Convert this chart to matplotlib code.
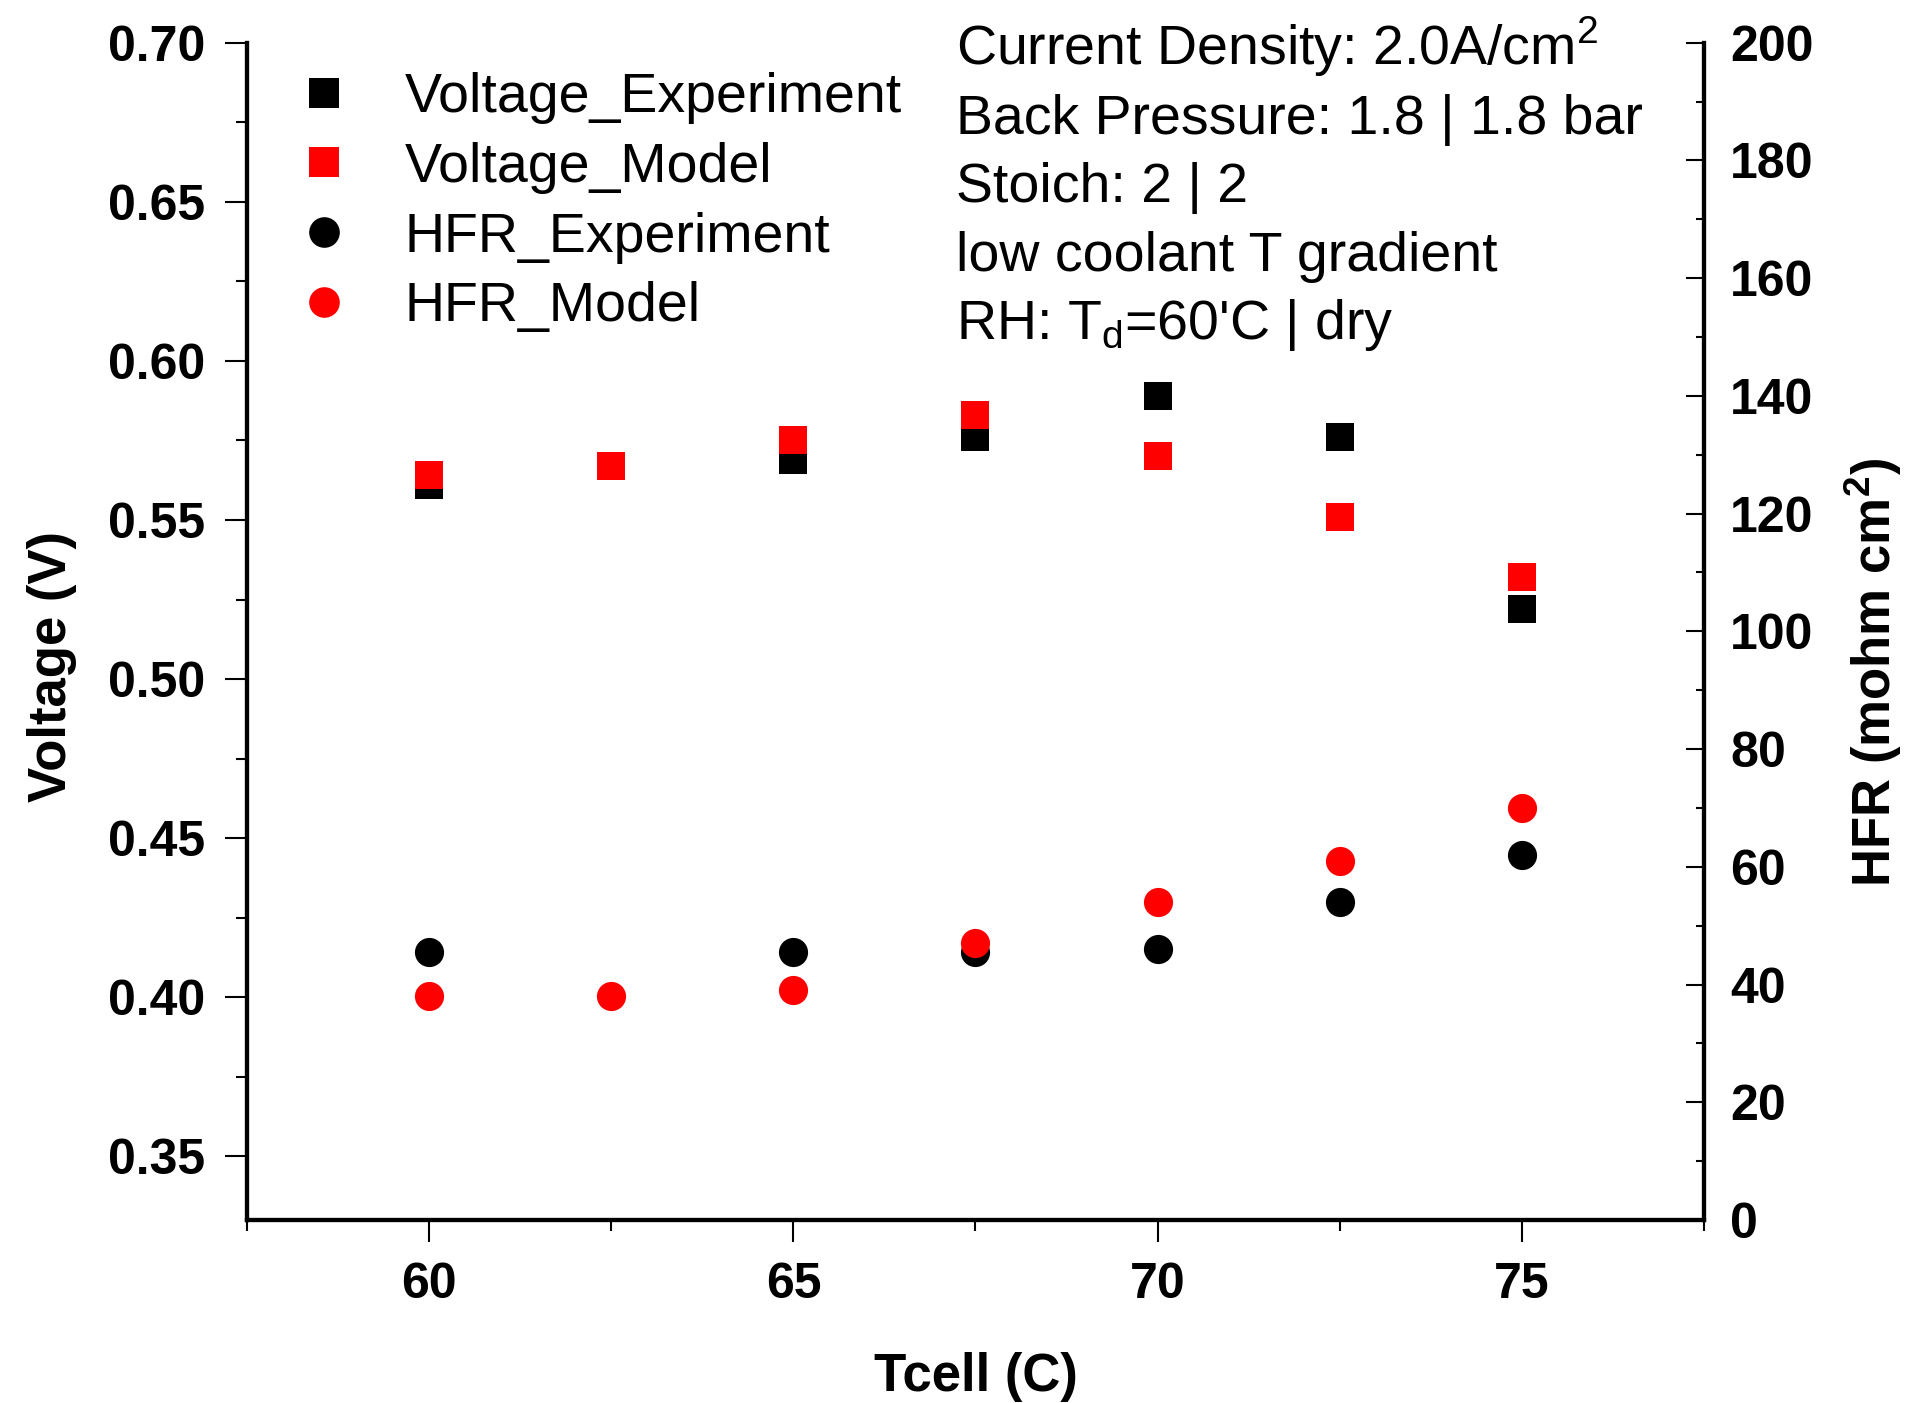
import matplotlib
matplotlib.use("Agg")
import matplotlib.pyplot as plt
from matplotlib.ticker import MultipleLocator

plt.rcParams['font.family'] = ['Liberation Sans', 'DejaVu Sans']
plt.rcParams['mathtext.fontset'] = 'custom'
plt.rcParams['mathtext.rm'] = 'Liberation Sans'
plt.rcParams['mathtext.bf'] = 'Liberation Sans:bold'

# cell temperature sweep (C)
t_exp = [60, 65, 67.5, 70, 72.5, 75]
t_model = [60, 62.5, 65, 67.5, 70, 72.5, 75]

# cell voltage (V)
volt_exp = [0.561, 0.569, 0.576, 0.589, 0.576, 0.522]
volt_model = [0.564, 0.567, 0.575, 0.583, 0.570, 0.551, 0.532]

# high frequency resistance (mohm cm2)
hfr_exp = [45.5, 45.5, 45.5, 46.0, 54.0, 62.0]
hfr_model = [38.0, 38.0, 39.0, 47.0, 54.0, 61.0, 70.0]

conditions = ["Current Density: 2.0A/cm$^{2}$",
              "Back Pressure: 1.8 | 1.8 bar",
              "Stoich: 2 | 2",
              "low coolant T gradient",
              "RH: T$_\\mathregular{d}$=60'C | dry"]

fig = plt.figure(figsize=(19.09, 14.03), dpi=100)
ax = fig.add_axes([0.1294, 0.1304, 0.7632, 0.8392])
ax2 = ax.twinx()

h1, = ax.plot(t_exp, volt_exp, 's', color='black', ms=20, mew=0, label='Voltage_Experiment')
h2, = ax.plot(t_model, volt_model, 's', color='red', ms=20, mew=0, label='Voltage_Model')
h3, = ax2.plot(t_exp, hfr_exp, 'o', color='black', ms=21, mew=0, label='HFR_Experiment')
h4, = ax2.plot(t_model, hfr_model, 'o', color='red', ms=21, mew=0, label='HFR_Model')

ax.set_xlim(57.5, 77.5)
ax.set_ylim(0.33, 0.70)
ax2.set_ylim(0, 200)

ax.xaxis.set_major_locator(MultipleLocator(5))
ax.xaxis.set_minor_locator(MultipleLocator(2.5))
ax.yaxis.set_major_locator(MultipleLocator(0.05))
ax.yaxis.set_minor_locator(MultipleLocator(0.025))
ax2.yaxis.set_major_locator(MultipleLocator(20))
ax2.yaxis.set_minor_locator(MultipleLocator(10))
ax.yaxis.set_major_formatter(matplotlib.ticker.FormatStrFormatter('%.2f'))

for a in (ax, ax2):
    a.spines['top'].set_visible(False)
    for s in ('left', 'right', 'bottom'):
        a.spines[s].set_linewidth(3)

ax.tick_params(axis='x', which='major', direction='out', length=16, width=1.5, pad=14,
               labelsize=36)
ax.tick_params(axis='x', which='minor', direction='out', length=8, width=1.5)
ax.tick_params(axis='y', which='major', direction='out', length=16, width=1.5, pad=14,
               labelsize=36, right=False)
ax.tick_params(axis='y', which='minor', direction='out', length=8, width=1.5, right=False)
ax2.tick_params(axis='y', which='major', direction='in', length=13, width=1.5, pad=19,
                labelsize=36)
ax2.tick_params(axis='y', which='minor', direction='in', length=6, width=1.5)
for lab in ax.get_xticklabels() + ax.get_yticklabels() + ax2.get_yticklabels():
    lab.set_fontweight('bold')

ax.set_xlabel('Tcell (C)', fontsize=38, fontweight='bold')
ax.set_ylabel('Voltage (V)', fontsize=38, fontweight='bold')
ax2.set_ylabel('HFR (mohm cm$^{\\mathbf{2}}$)', fontsize=38, fontweight='bold')
ax.xaxis.set_label_coords(0.5, -0.112)
ax.yaxis.set_label_coords(-0.117, 0.47)
ax2.yaxis.set_label_coords(1.095, 0.465)

ax2.legend(handles=[h1, h2, h3, h4], loc='upper left', bbox_to_anchor=(0.0336, 0.975),
           frameon=False, fontsize=40, handlelength=1, handletextpad=0.95,
           borderpad=0, borderaxespad=0, labelspacing=0.32, markerscale=1.05)

# operating conditions, one line each
for i, line in enumerate(conditions):
    ax2.text(0.4866, 0.981 - i * 0.0582, line, transform=ax2.transAxes,
             fontsize=40, va='baseline', ha='left', clip_on=False)

plt.savefig('out.png', dpi=100)
